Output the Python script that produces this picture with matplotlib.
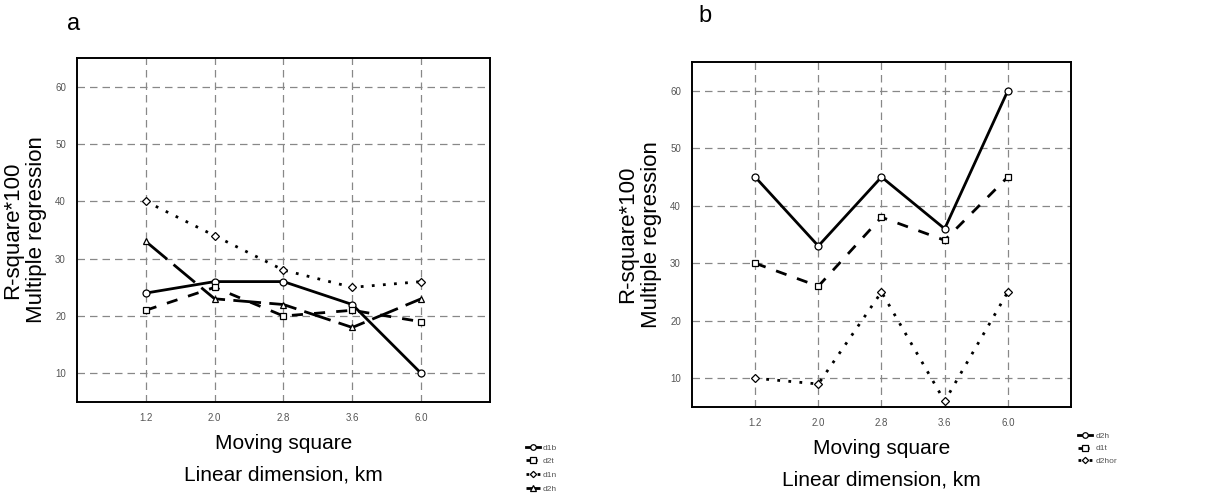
import matplotlib.pyplot as plt

plt.rcParams['font.family'] = ['Liberation Sans', 'DejaVu Sans']

# x categories (moving square, linear dimension in km)
sizes = ["1.2", "2.0", "2.8", "3.6", "6.0"]
xpos = list(range(len(sizes)))

# panel a
a_d1b = [24, 26, 26, 22, 10]
a_d2t = [21, 25, 20, 21, 19]
a_d1n = [40, 34, 28, 25, 26]
a_d2h = [33, 23, 22, 18, 23]

# panel b
b_d2h = [45, 33, 45, 36, 60]
b_d1t = [30, 26, 38, 34, 45]
b_d2hor = [10, 9, 25, 6, 25]


def style_axes(ax):
    ax.set_xlim(-1, 5)
    ax.set_ylim(5, 65)
    ax.set_xticks(xpos)
    ax.set_xticklabels(sizes)
    ax.set_yticks([10, 20, 30, 40, 50, 60])
    ax.tick_params(labelsize=7, colors='#555555', length=0, pad=8)
    ax.grid(True, linestyle=(0, (6, 4)), color='#888888', linewidth=0.9)
    for s in ax.spines.values():
        s.set_linewidth(1.4)
    ax.set_ylabel("R-square*100\nMultiple regression", fontsize=16, labelpad=6,
                  linespacing=1.15)
    ax.set_xlabel("Moving square\nLinear dimension, km", fontsize=15, labelpad=8,
                  linespacing=1.8)


def draw(ax, y, ls, marker, ms, label):
    ax.plot(xpos, y, color='black', linestyle=ls, linewidth=2.0, marker=marker,
            markersize=ms, markerfacecolor='white', markeredgecolor='black',
            markeredgewidth=0.9, label=label)


fig = plt.figure(figsize=(12.32, 5), dpi=100)

ax1 = fig.add_axes([0.0625, 0.196, 0.3352, 0.688])
style_axes(ax1)
draw(ax1, a_d1b, '-', 'o', 5, 'd1b')
draw(ax1, a_d2t, (0, (4, 4)), 's', 5, 'd2t')
draw(ax1, a_d1n, (0, (1, 3)), 'D', 4, 'd1n')
draw(ax1, a_d2h, (0, (10, 3)), '^', 5, 'd2h')
ax1.legend(loc='upper left', bbox_to_anchor=(1.07, -0.1), fontsize=6,
           frameon=False, handlelength=1.6, handletextpad=0.4, labelspacing=0.7,
           labelcolor='#555555', markerscale=0.8)
fig.text(0.054, 0.94, "a", fontsize=17)

ax2 = fig.add_axes([0.5617, 0.186, 0.3076, 0.69])
style_axes(ax2)
draw(ax2, b_d2h, '-', 'o', 5, 'd2h')
draw(ax2, b_d1t, (0, (4, 4)), 's', 5, 'd1t')
draw(ax2, b_d2hor, (0, (1, 3)), 'D', 4, 'd2hor')
ax2.legend(loc='upper left', bbox_to_anchor=(1.0, -0.05), fontsize=6,
           frameon=False, handlelength=1.6, handletextpad=0.4, labelspacing=0.6,
           labelcolor='#555555', markerscale=0.8)
fig.text(0.567, 0.955, "b", fontsize=17)

fig.savefig("out.png", dpi=100)
